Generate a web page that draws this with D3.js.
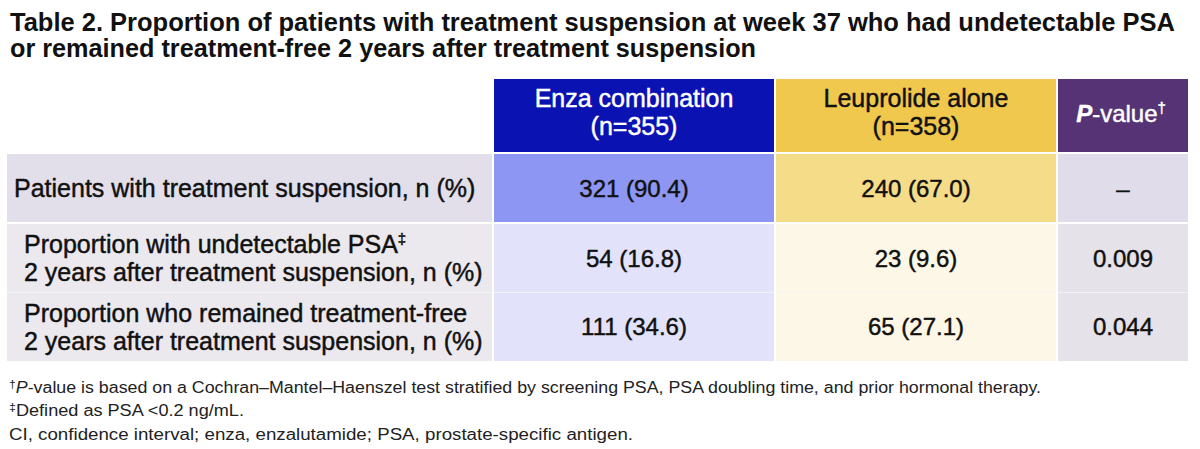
<!DOCTYPE html>
<html>
<head>
<meta charset="utf-8">
<script src="https://cdn.jsdelivr.net/npm/d3@7"></script>
<style>
  html, body { margin: 0; padding: 0; background: #ffffff; }
  svg { display: block; font-family: "Liberation Sans", Arial, sans-serif; }
</style>
</head>
<body>
<svg id="chart" width="1200" height="449"></svg>
<script>
// ---- data ----
const titleLines = [
  "Table 2. Proportion of patients with treatment suspension at week 37 who had undetectable PSA",
  "or remained treatment-free 2 years after treatment suspension"
];
const columnKeys = ["label", "enza", "leup", "pval"];
const headerLine1 = ["", "Enza combination", "Leuprolide alone", ""];
const headerLine2 = ["", "(n=355)", "(n=358)", ""];
const rowKeys = ["susp", "psa", "free"];
const rowLabelLines = [
  ["Patients with treatment suspension, n (%)"],
  ["Proportion with undetectable PSA\u2021", "2 years after treatment suspension, n (%)"],
  ["Proportion who remained treatment-free", "2 years after treatment suspension, n (%)"]
];
const enzaValues = ["321 (90.4)", "54 (16.8)", "111 (34.6)"];
const leupValues = ["240 (67.0)", "23 (9.6)", "65 (27.1)"];
const pValues = ["\u2013", "0.009", "0.044"];
const footnotes = [
  "P-value is based on a Cochran\u2013Mantel\u2013Haenszel test stratified by screening PSA, PSA doubling time, and prior hormonal therapy.",
  "Defined as PSA <0.2 ng/mL.",
  "CI, confidence interval; enza, enzalutamide; PSA, prostate-specific antigen."
];

// ---- layout ----
const svg = d3.select("#chart");

// column edges
const colX0 = d3.scaleOrdinal().domain(columnKeys).range([7, 494, 776, 1058]);
const colX1 = d3.scaleOrdinal().domain(columnKeys).range([492, 774, 1056, 1188]);
const colW = k => colX1(k) - colX0(k);
const colC = k => (colX0(k) + colX1(k)) / 2;

// rows
const headerY0 = 79, headerY1 = 152;
const rowY = d3.scaleOrdinal().domain(rowKeys).range([154, 224, 292]);
const rowH = d3.scaleOrdinal().domain(rowKeys).range([68, 68, 69]);

// colours
const headerFill = d3.scaleOrdinal().domain(columnKeys).range(["#ffffff", "#0a12b2", "#f0c84e", "#553375"]);
const headerText = d3.scaleOrdinal().domain(columnKeys).range(["#000", "#ffffff", "#111111", "#ffffff"]);
const row1Fill = d3.scaleOrdinal().domain(columnKeys).range(["#e2dfeb", "#8d96f2", "#f5dc89", "#e1dcea"]);
const rowNFill = d3.scaleOrdinal().domain(columnKeys).range(["#ebe9ee", "#e2e3fb", "#fcf7e6", "#e5e2ea"]);

const labelSize = 25;
const headSize = 25;
const valueSize = 24;
const thick = 0.45;

// ---- title ----
svg.selectAll("text.title")
  .data(titleLines)
  .join("text")
  .attr("class", "title")
  .attr("x", 10)
  .attr("y", (d, i) => 31 + i * 26)
  .attr("font-size", 25)
  .attr("font-weight", "bold")
  .attr("fill", "#111")
  .attr("textLength", (d, i) => i === 0 ? 1165 : 746)
  .attr("lengthAdjust", "spacingAndGlyphs")
  .text(d => d);

// ---- header cells ----
const hdrCols = columnKeys.slice(1);
svg.selectAll("rect.hdr")
  .data(hdrCols)
  .join("rect")
  .attr("class", "hdr")
  .attr("x", d => colX0(d))
  .attr("y", headerY0)
  .attr("width", d => colW(d))
  .attr("height", headerY1 - headerY0)
  .attr("fill", d => headerFill(d));

hdrCols.forEach((k, i) => {
  const ci = i + 1;
  if (k === "pval") {
    const t = svg.append("text")
      .attr("x", colC(k) - 2).attr("y", 122)
      .attr("text-anchor", "middle")
      .attr("font-size", 24)
      .attr("fill", headerText(k))
      .attr("stroke", headerText(k)).attr("stroke-width", thick);
    t.append("tspan").attr("font-style", "italic").attr("font-weight", "bold").text("P");
    t.append("tspan").text("-value");
    t.append("tspan").attr("font-size", 15).attr("dy", -9).text("\u2020");
  } else {
    [headerLine1[ci], headerLine2[ci]].forEach((txt, li) => {
      svg.append("text")
        .attr("x", colC(k)).attr("y", 107 + li * 28)
        .attr("text-anchor", "middle")
        .attr("font-size", headSize)
        .attr("fill", headerText(k))
        .attr("stroke", headerText(k)).attr("stroke-width", thick)
        .text(txt);
    });
  }
});

// ---- body cells ----
const cells = [];
rowKeys.forEach((r, ri) => {
  columnKeys.forEach(c => cells.push({ r, ri, c }));
});
svg.selectAll("rect.cell")
  .data(cells)
  .join("rect")
  .attr("class", "cell")
  .attr("x", d => colX0(d.c))
  .attr("y", d => rowY(d.r))
  .attr("width", d => colW(d.c))
  .attr("height", d => rowH(d.r))
  .attr("fill", d => d.ri === 0 ? row1Fill(d.c) : rowNFill(d.c));

// faint separator between rows 2 and 3
svg.selectAll("line.sep")
  .data(columnKeys)
  .join("line")
  .attr("class", "sep")
  .attr("x1", d => colX0(d)).attr("x2", d => colX1(d))
  .attr("y1", rowY("free") + 0.5).attr("y2", rowY("free") + 0.5)
  .attr("stroke", "#f3f2f6").attr("stroke-width", 1);

// row labels
rowKeys.forEach((r, ri) => {
  const lines = rowLabelLines[ri];
  const cy = rowY(r) + rowH(r) / 2;
  const x = ri === 0 ? 14 : 24;
  lines.forEach((ln, li) => {
    const y = cy + 9 + (li - (lines.length - 1) / 2) * 28;
    const t = svg.append("text")
      .attr("x", x).attr("y", y)
      .attr("font-size", labelSize)
      .attr("fill", "#111")
      .attr("stroke", "#111").attr("stroke-width", thick);
    if (ln.endsWith("\u2021")) {
      t.append("tspan").text(ln.slice(0, -1));
      t.append("tspan").attr("font-size", 15).attr("dy", -9).text("\u2021");
    } else {
      t.text(ln);
    }
  });
});

// values
const valueCols = [["enza", enzaValues], ["leup", leupValues], ["pval", pValues]];
valueCols.forEach(([k, vals]) => {
  svg.selectAll("text.v-" + k)
    .data(vals)
    .join("text")
    .attr("class", "v-" + k)
    .attr("x", colC(k))
    .attr("y", (d, i) => rowY(rowKeys[i]) + rowH(rowKeys[i]) / 2 + 8.5)
    .attr("text-anchor", "middle")
    .attr("font-size", valueSize)
    .attr("fill", "#111")
    .attr("stroke", "#111").attr("stroke-width", thick)
    .text(d => d);
});

// ---- footnotes ----
const fnY = [393, 416, 440];
const fnLen = [1032, 235, 624];
footnotes.forEach((f, i) => {
  const t = svg.append("text")
    .attr("x", 9).attr("y", fnY[i])
    .attr("font-size", 16)
    .attr("fill", "#222")
    .attr("textLength", fnLen[i])
    .attr("lengthAdjust", "spacingAndGlyphs");
  if (i === 0) {
    t.append("tspan").attr("font-size", 11).attr("dy", -5).text("\u2020");
    t.append("tspan").attr("font-style", "italic").attr("dy", 5).text("P");
    t.append("tspan").text(f.slice(1));
  } else if (i === 1) {
    t.append("tspan").attr("font-size", 11).attr("dy", -5).text("\u2021");
    t.append("tspan").attr("dy", 5).text(f);
  } else {
    t.text(f);
  }
});
</script>
</body>
</html>
